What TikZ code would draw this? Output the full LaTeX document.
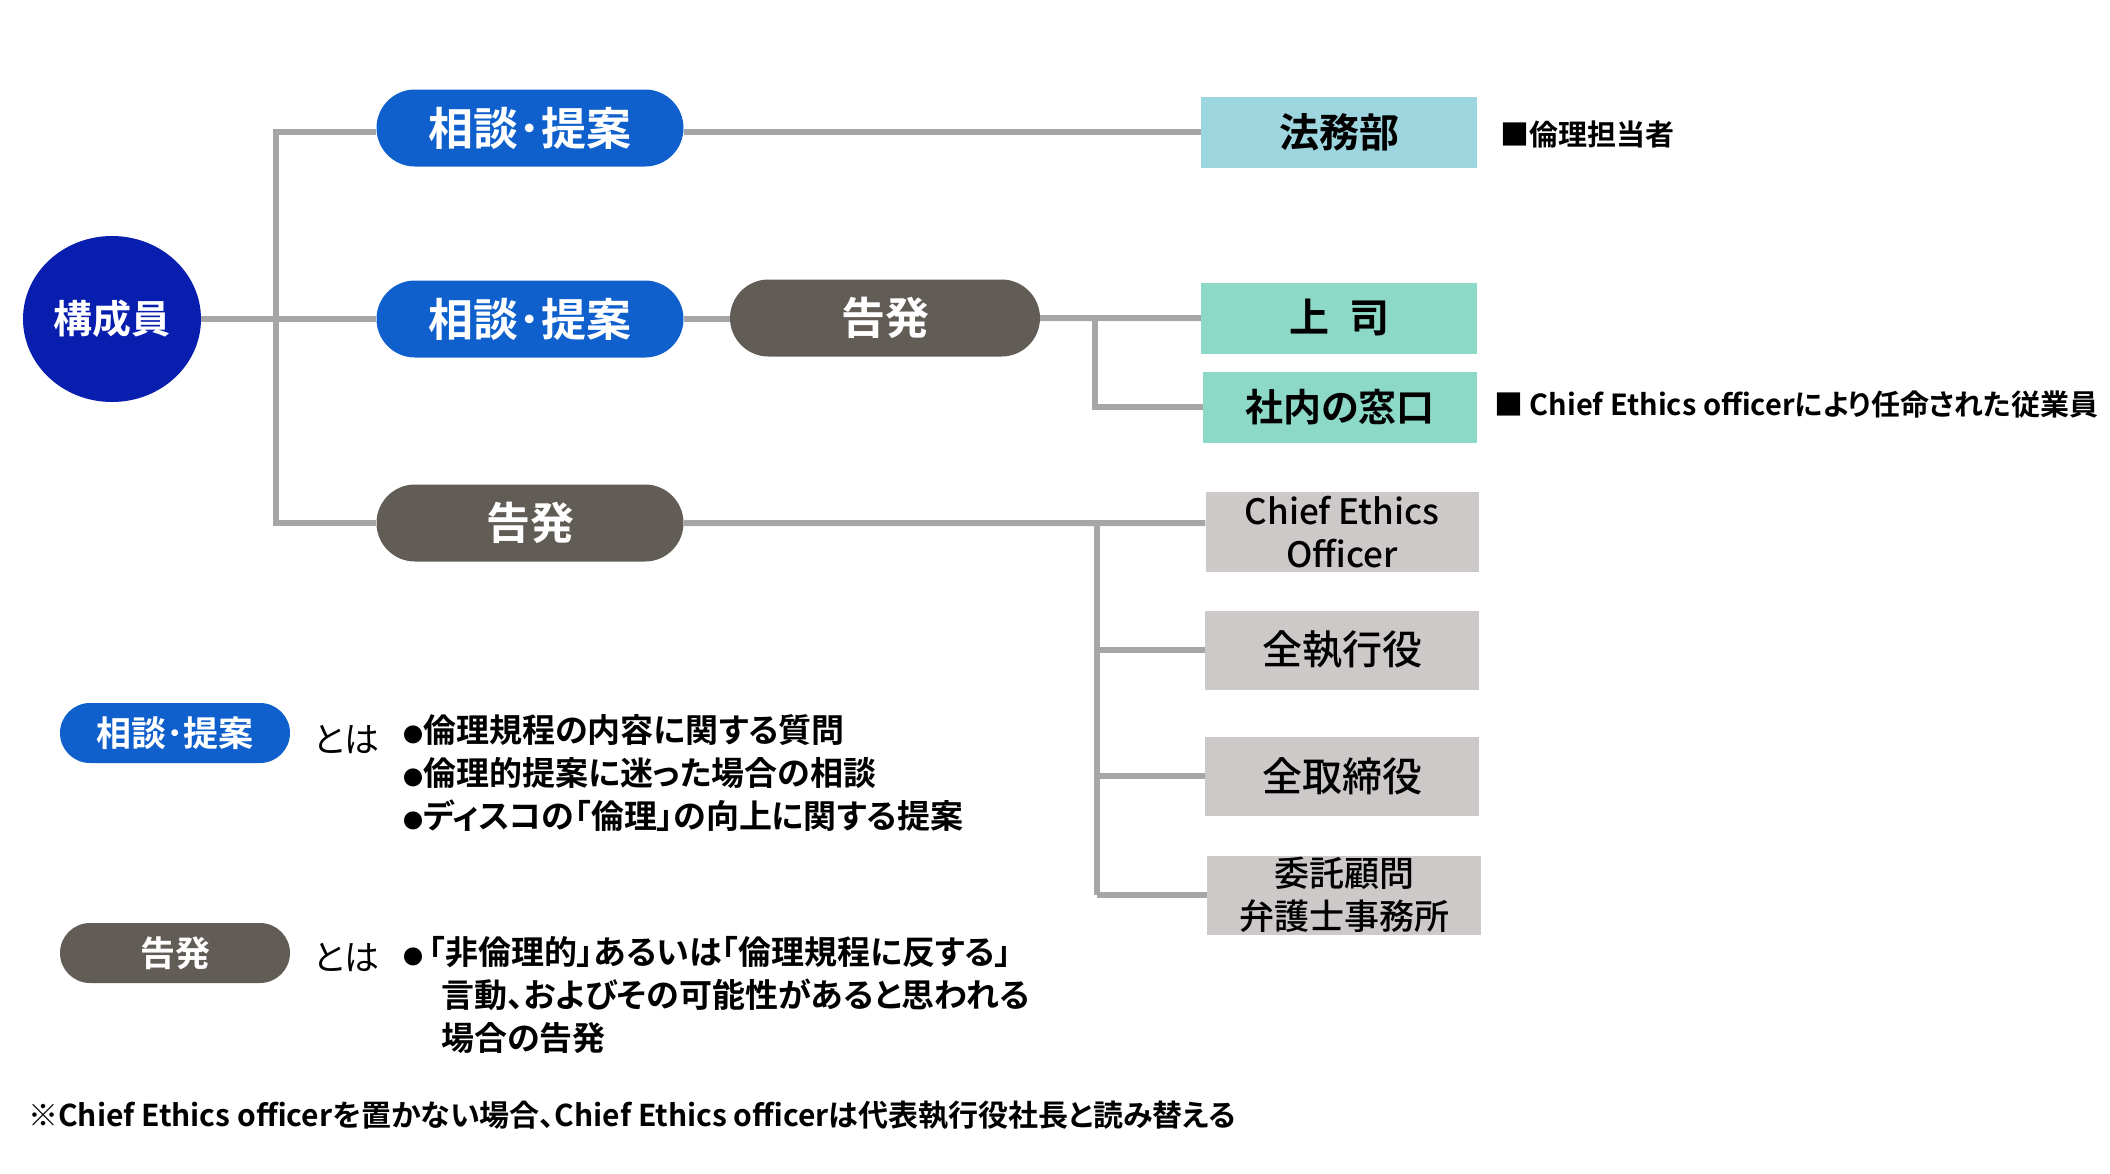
\documentclass[tikz,border=0pt]{standalone}
\usepackage{fontspec}
\setmainfont{Noto Sans CJK JP}[BoldFont={Noto Sans CJK JP Bold},RawFeature=+palt]
\newfontfamily\midfont{Noto Sans CJK JP Medium}[RawFeature=+palt]
\usetikzlibrary{shapes.geometric,shapes.misc,positioning}

\definecolor{memblue}{RGB}{8,30,175}
\definecolor{askblue}{RGB}{15,96,204}
\definecolor{tellgray}{RGB}{98,92,86}
\definecolor{legalcyan}{RGB}{157,214,222}
\definecolor{deskmint}{RGB}{140,217,200}
\definecolor{boxgray}{RGB}{204,201,200}
\definecolor{wiregray}{RGB}{166,166,166}

\newcommand{\px}[2]{\fontsize{#1}{#2}\selectfont}
\newcommand{\blt}{{\px{20}{20}●}}

\tikzset{
    wire/.style={draw=wiregray, line width=6pt},
    pill/.style={rounded rectangle, minimum width=307pt, minimum height=77pt, inner sep=0pt, text=white, font=\px{45}{54}\bfseries},
    askpill/.style={pill, fill=askblue},
    tellpill/.style={pill, fill=tellgray},
    keypill/.style={minimum width=230pt, minimum height=60pt, font=\px{35}{42}\bfseries},
    tbox/.style={rectangle, minimum width=276pt, minimum height=71pt, inner sep=0pt, font=\px{40}{48}\bfseries},
    gbox/.style={tbox, fill=boxgray, minimum width=274pt, minimum height=79pt, align=center, font=\px{35}{43}\midfont},
    note/.style={anchor=west, inner sep=0pt, font=\px{29}{35}\bfseries},
}

\begin{document}
\begin{tikzpicture}[x=1pt, y=-1pt]
            \useasboundingbox (0,0) rectangle (2110,1173);
            \node[ellipse, fill=memblue, minimum width=178pt, minimum height=166pt, inner sep=0pt, text=white, font=\px{39}{47}\bfseries] (mem) at (112,319) {構成員};
            \node[askpill] (ask1) at (530,128) {相談･提案};
            \node[askpill] (ask2) at (530,319) {相談･提案};
            \node[tellpill, minimum width=310pt, font=\px{44}{53}\bfseries] (tell2) at (885,318) {告発};
            \node[tellpill, font=\px{44}{53}\bfseries] (tell3) at (530,523) {告発};

            \node[tbox, fill=legalcyan] (legal) at (1339,132) {法務部};
            \node[tbox, fill=deskmint] (boss) at (1339,318) {上\hspace{0.5em}司};
            \node[tbox, fill=deskmint, minimum width=274pt, font=\px{38}{46}\bfseries] (desk) at (1340,407) {社内の窓口};
            \node[gbox, minimum width=273pt, minimum height=80pt] (ceo) at (1342,532) {Chief Ethics\\Officer};
            \node[gbox, font=\px{40}{48}\midfont] (exec) at (1342,650) {全執行役};
            \node[gbox, font=\px{40}{48}\midfont] (board) at (1342,776) {全取締役};
            \node[gbox] (advisor) at (1344,895) {委託顧問\\弁護士事務所};

            \node[note] (legalnote) at (1500,134) {■倫理担当者};
            \node[note] (desknote) at (1494,405) {■ Chief Ethics officerにより任命された従業員};

            \coordinate (trunk) at (276,319);
            \coordinate (split) at (1095,318);
            \coordinate (branch) at (1097,523);
            \draw[wire] (mem) -- (ask2);
            \draw[wire] (ask1.west |- legal.west) -| (trunk) |- (tell3.west);
            \draw[wire] (ask1.east |- legal.west) -- (legal.west);
            \draw[wire] (ask2.east) -- (ask2.east -| tell2.west);
            \draw[wire] (tell2) -- (boss);
            \draw[wire] (split) |- (desk.west);
            \draw[wire] (tell3) -- (tell3 -| ceo.west);
            \draw[wire] (branch) -- (branch |- advisor);
            \foreach \b in {exec,board,advisor} {
                \draw[wire] (branch |- \b) -- (\b.west);
            }

            \node[askpill, keypill] (askkey) at (175,733) {相談･提案};
            \node[anchor=west, inner sep=0pt, font=\px{35}{42}] (askis) at (313,740) {とは};
            \node[anchor=west, inner sep=0pt, align=left, font=\px{33}{43}\bfseries] (asklist) at (403,773) {\blt 倫理規程の内容に関する質問\\\blt 倫理的提案に迷った場合の相談\\\blt ディスコの「倫理」の向上に関する提案};
            \node[tellpill, keypill] (tellkey) at (175,953) {告発};
            \node[anchor=west, inner sep=0pt, font=\px{35}{42}] (tellis) at (313,958) {とは};
            \node[anchor=west, inner sep=0pt, align=left, font=\px{33}{43}\bfseries] (telllist) at (403,995) {\blt\,「非倫理的」あるいは「倫理規程に反する」\\\hspace{38pt}言動、およびその可能性があると思われる\\\hspace{38pt}場合の告発};

            \node[anchor=west, inner sep=0pt, font=\px{30}{36}\bfseries] (footnote) at (28,1115) {※Chief Ethics officerを置かない場合、Chief Ethics officerは代表執行役社長と読み替える};
        \end{tikzpicture}
\end{document}
